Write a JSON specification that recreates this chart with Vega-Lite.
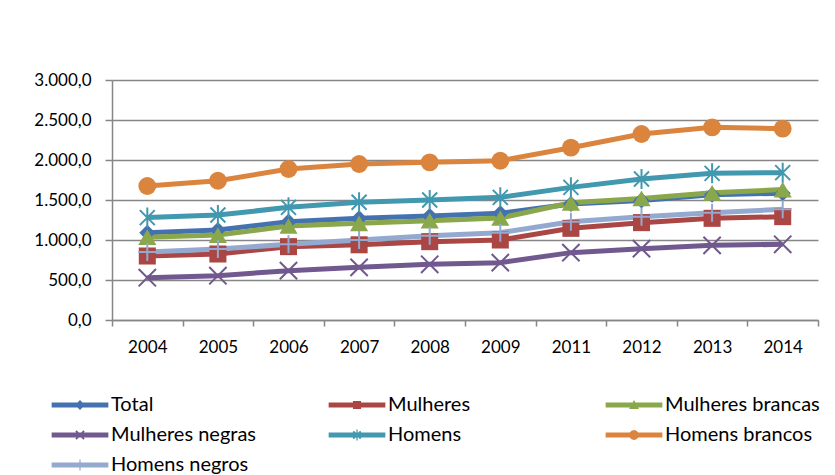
{
  "$schema": "https://vega.github.io/schema/vega-lite/v6.json",
  "width": 706,
  "height": 240,
  "autosize": "none",
  "padding": {"left": 112, "top": 80, "right": 17, "bottom": 155},
  "background": "white",
  "config": {
    "font": "Lato",
    "view": {"stroke": null},
    "axis": {"labelFont": "Lato", "labelFontSize": 17, "labelColor": "#000000"},
    "legend": {"labelFont": "Lato", "labelFontSize": 20, "labelColor": "#000000"}
  },
  "data": {
    "values": [
      {"ano": "2004", "serie": "Total", "valor": 1090},
      {"ano": "2005", "serie": "Total", "valor": 1125},
      {"ano": "2006", "serie": "Total", "valor": 1229},
      {"ano": "2007", "serie": "Total", "valor": 1271},
      {"ano": "2008", "serie": "Total", "valor": 1300},
      {"ano": "2009", "serie": "Total", "valor": 1335},
      {"ano": "2011", "serie": "Total", "valor": 1450},
      {"ano": "2012", "serie": "Total", "valor": 1495},
      {"ano": "2013", "serie": "Total", "valor": 1565},
      {"ano": "2014", "serie": "Total", "valor": 1585},
      {"ano": "2004", "serie": "Mulheres", "valor": 800},
      {"ano": "2005", "serie": "Mulheres", "valor": 825},
      {"ano": "2006", "serie": "Mulheres", "valor": 917},
      {"ano": "2007", "serie": "Mulheres", "valor": 940},
      {"ano": "2008", "serie": "Mulheres", "valor": 979},
      {"ano": "2009", "serie": "Mulheres", "valor": 1000},
      {"ano": "2011", "serie": "Mulheres", "valor": 1146},
      {"ano": "2012", "serie": "Mulheres", "valor": 1217},
      {"ano": "2013", "serie": "Mulheres", "valor": 1271},
      {"ano": "2014", "serie": "Mulheres", "valor": 1292},
      {"ano": "2004", "serie": "Mulheres brancas", "valor": 1035},
      {"ano": "2005", "serie": "Mulheres brancas", "valor": 1062},
      {"ano": "2006", "serie": "Mulheres brancas", "valor": 1175},
      {"ano": "2007", "serie": "Mulheres brancas", "valor": 1208},
      {"ano": "2008", "serie": "Mulheres brancas", "valor": 1241},
      {"ano": "2009", "serie": "Mulheres brancas", "valor": 1275},
      {"ano": "2011", "serie": "Mulheres brancas", "valor": 1465},
      {"ano": "2012", "serie": "Mulheres brancas", "valor": 1520},
      {"ano": "2013", "serie": "Mulheres brancas", "valor": 1590},
      {"ano": "2014", "serie": "Mulheres brancas", "valor": 1630},
      {"ano": "2004", "serie": "Mulheres negras", "valor": 529},
      {"ano": "2005", "serie": "Mulheres negras", "valor": 554},
      {"ano": "2006", "serie": "Mulheres negras", "valor": 617},
      {"ano": "2007", "serie": "Mulheres negras", "valor": 658},
      {"ano": "2008", "serie": "Mulheres negras", "valor": 696},
      {"ano": "2009", "serie": "Mulheres negras", "valor": 717},
      {"ano": "2011", "serie": "Mulheres negras", "valor": 842},
      {"ano": "2012", "serie": "Mulheres negras", "valor": 892},
      {"ano": "2013", "serie": "Mulheres negras", "valor": 933},
      {"ano": "2014", "serie": "Mulheres negras", "valor": 946},
      {"ano": "2004", "serie": "Homens", "valor": 1280},
      {"ano": "2005", "serie": "Homens", "valor": 1312},
      {"ano": "2006", "serie": "Homens", "valor": 1408},
      {"ano": "2007", "serie": "Homens", "valor": 1471},
      {"ano": "2008", "serie": "Homens", "valor": 1500},
      {"ano": "2009", "serie": "Homens", "valor": 1533},
      {"ano": "2011", "serie": "Homens", "valor": 1658},
      {"ano": "2012", "serie": "Homens", "valor": 1762},
      {"ano": "2013", "serie": "Homens", "valor": 1833},
      {"ano": "2014", "serie": "Homens", "valor": 1842},
      {"ano": "2004", "serie": "Homens brancos", "valor": 1675},
      {"ano": "2005", "serie": "Homens brancos", "valor": 1741},
      {"ano": "2006", "serie": "Homens brancos", "valor": 1887},
      {"ano": "2007", "serie": "Homens brancos", "valor": 1950},
      {"ano": "2008", "serie": "Homens brancos", "valor": 1971},
      {"ano": "2009", "serie": "Homens brancos", "valor": 1991},
      {"ano": "2011", "serie": "Homens brancos", "valor": 2154},
      {"ano": "2012", "serie": "Homens brancos", "valor": 2325},
      {"ano": "2013", "serie": "Homens brancos", "valor": 2408},
      {"ano": "2014", "serie": "Homens brancos", "valor": 2392},
      {"ano": "2004", "serie": "Homens negros", "valor": 850},
      {"ano": "2005", "serie": "Homens negros", "valor": 887},
      {"ano": "2006", "serie": "Homens negros", "valor": 946},
      {"ano": "2007", "serie": "Homens negros", "valor": 1000},
      {"ano": "2008", "serie": "Homens negros", "valor": 1054},
      {"ano": "2009", "serie": "Homens negros", "valor": 1092},
      {"ano": "2011", "serie": "Homens negros", "valor": 1229},
      {"ano": "2012", "serie": "Homens negros", "valor": 1292},
      {"ano": "2013", "serie": "Homens negros", "valor": 1342},
      {"ano": "2014", "serie": "Homens negros", "valor": 1383}
    ]
  },
  "encoding": {
    "x": {
      "field": "ano",
      "type": "ordinal",
      "scale": {"type": "band", "paddingInner": 0, "paddingOuter": 0},
      "axis": {
        "title": null,
        "labelAngle": 0,
        "domainColor": "#868686",
        "domainWidth": 1.5,
        "tickColor": "#868686",
        "tickWidth": 1.5,
        "tickSize": 6,
        "tickBand": "extent",
        "labelPadding": 13,
        "grid": false
      }
    },
    "y": {
      "field": "valor",
      "type": "quantitative",
      "scale": {"domain": [0, 3000], "nice": false},
      "axis": {
        "title": null,
        "values": [0, 500, 1000, 1500, 2000, 2500, 3000],
        "labelExpr": "replace(replace(replace(format(datum.value, ',.1f'), ',', '#'), '.', ','), '#', '.')",
        "domainColor": "#868686",
        "domainWidth": 1.5,
        "tickColor": "#868686",
        "tickWidth": 1.5,
        "tickSize": 7,
        "labelPadding": 14,
        "gridColor": "#868686",
        "gridWidth": 1.5
      }
    }
  },
  "layer": [
    {
      "mark": {"type": "line", "strokeWidth": 5},
      "encoding": {
        "stroke": {
          "field": "serie",
          "type": "nominal",
          "sort": ["Total", "Mulheres", "Mulheres brancas", "Mulheres negras", "Homens", "Homens brancos", "Homens negros"],
          "scale": {
            "range": ["#4472B0", "#AA4643", "#8AA84B", "#71588F", "#4198AF", "#DB843D", "#93A9CF"]
          },
          "legend": null
        }
      }
    },
    {
      "transform": [{"filter": {"field": "serie", "equal": "Total"}}],
      "mark": {"type": "point", "shape": "diamond", "filled": true, "color": "#4472B0", "size": 260, "opacity": 1}
    },
    {
      "transform": [{"filter": {"field": "serie", "equal": "Mulheres"}}],
      "mark": {"type": "point", "shape": "square", "filled": true, "color": "#AA4643", "size": 290, "opacity": 1}
    },
    {
      "transform": [{"filter": {"field": "serie", "equal": "Mulheres brancas"}}],
      "mark": {"type": "point", "shape": "triangle-up", "filled": true, "color": "#8AA84B", "size": 330, "opacity": 1}
    },
    {
      "transform": [{"filter": {"field": "serie", "equal": "Mulheres negras"}}],
      "mark": {"type": "point", "shape": "M-1,-1L1,1M-1,1L1,-1", "filled": false, "color": "#71588F", "strokeWidth": 2, "size": 300, "opacity": 1}
    },
    {
      "transform": [{"filter": {"field": "serie", "equal": "Homens"}}],
      "mark": {"type": "point", "shape": "M-0.75,-0.75L0.75,0.75M-0.75,0.75L0.75,-0.75M0,-1L0,1", "filled": false, "color": "#4198AF", "strokeWidth": 2, "size": 400, "opacity": 1}
    },
    {
      "transform": [{"filter": {"field": "serie", "equal": "Homens brancos"}}],
      "mark": {"type": "point", "shape": "circle", "filled": true, "color": "#DB843D", "size": 320, "opacity": 1}
    },
    {
      "transform": [{"filter": {"field": "serie", "equal": "Homens negros"}}],
      "mark": {"type": "point", "shape": "M-1,0L1,0M0,-1L0,1", "filled": false, "color": "#93A9CF", "strokeWidth": 2, "size": 324, "opacity": 1}
    },
    {
      "transform": [{"filter": {"field": "valor", "lt": 0}}],
      "mark": {"type": "point", "filled": true, "opacity": 1, "size": 324},
      "encoding": {
        "color": {
          "field": "serie",
          "type": "nominal",
          "scale": {
            "domain": ["Total", "Mulheres", "Mulheres brancas", "Mulheres negras", "Homens", "Homens brancos", "Homens negros"],
            "range": ["#4472B0", "#AA4643", "#8AA84B", "#71588F", "#4198AF", "#DB843D", "#93A9CF"]
          },
          "legend": {
            "title": null,
            "orient": "none",
            "direction": "horizontal",
            "legendX": -42,
            "legendY": 315,
            "columns": 3,
            "gridAlign": "all",
            "columnPadding": 62,
            "rowPadding": 10,
            "symbolSize": 324,
            "symbolStrokeWidth": 0,
            "labelOffset": 21
          }
        },
        "shape": {
          "field": "serie",
          "type": "nominal",
          "scale": {
            "domain": ["Total", "Mulheres", "Mulheres brancas", "Mulheres negras", "Homens", "Homens brancos", "Homens negros"],
            "range": [
              "M-3.15,-0.27L3.15,-0.27L3.15,0.27L-3.15,0.27ZM0,-0.55L0.55,0L0,0.55L-0.55,0Z",
              "M-3.15,-0.27L3.15,-0.27L3.15,0.27L-3.15,0.27ZM-0.45,-0.45L0.45,-0.45L0.45,0.45L-0.45,0.45Z",
              "M-3.15,-0.27L3.15,-0.27L3.15,0.27L-3.15,0.27ZM0,-0.55L0.55,0.45L-0.55,0.45Z",
              "M-3.15,-0.27L3.15,-0.27L3.15,0.27L-3.15,0.27ZM-0.38,-0.52L0.52,0.38L0.38,0.52L-0.52,-0.38ZM0.38,-0.52L0.52,-0.38L-0.38,0.52L-0.52,0.38Z",
              "M-3.15,-0.27L3.15,-0.27L3.15,0.27L-3.15,0.27ZM-0.34,-0.48L0.48,0.34L0.34,0.48L-0.48,-0.34ZM0.34,-0.48L0.48,-0.34L-0.34,0.48L-0.48,0.34ZM-0.07,-0.6L0.07,-0.6L0.07,0.6L-0.07,0.6Z",
              "M-3.15,-0.27L3.15,-0.27L3.15,0.27L-3.15,0.27ZM0,-0.55L0.275,-0.476L0.476,-0.275L0.55,0L0.476,0.275L0.275,0.476L0,0.55L-0.275,0.476L-0.476,0.275L-0.55,0L-0.476,-0.275L-0.275,-0.476Z",
              "M-3.15,-0.27L3.15,-0.27L3.15,0.27L-3.15,0.27ZM-0.07,-0.6L0.07,-0.6L0.07,0.6L-0.07,0.6Z"
            ]
          },
          "legend": {
            "title": null,
            "orient": "none",
            "direction": "horizontal",
            "legendX": -42,
            "legendY": 315,
            "columns": 3,
            "gridAlign": "all",
            "columnPadding": 62,
            "rowPadding": 10,
            "symbolSize": 324,
            "symbolStrokeWidth": 0,
            "labelOffset": 21
          }
        }
      }
    }
  ]
}
